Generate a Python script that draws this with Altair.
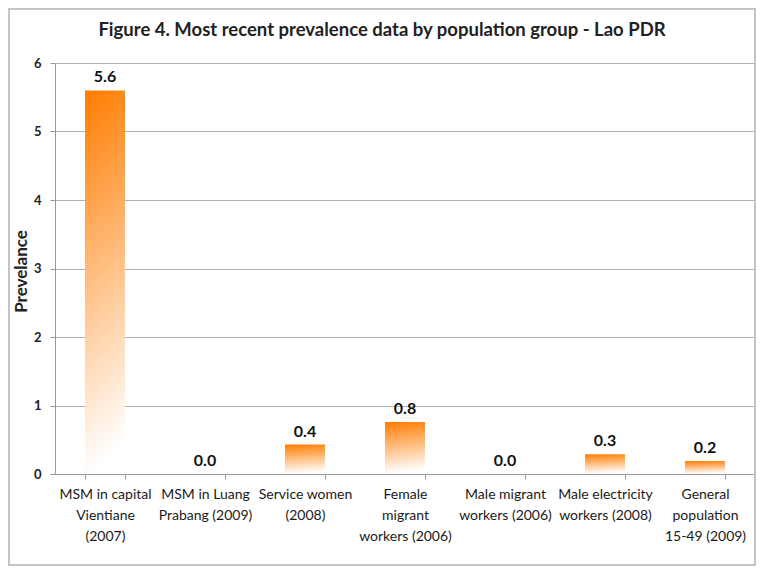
import altair as alt
import pandas as pd

categories = [
    "MSM in capital|Vientiane|(2007)",
    "MSM in Luang|Prabang (2009)",
    "Service women|(2008)",
    "Female|migrant|workers (2006)",
    "Male migrant|workers (2006)",
    "Male electricity|workers (2008)",
    "General|population|15-49 (2009)",
]
values = [5.6, 0.0, 0.43, 0.76, 0.0, 0.29, 0.19]
y_ticks = [0, 1, 2, 3, 4, 5, 6]

df = pd.DataFrame({"cat": categories, "val": values})

FONT = "Lato"
GRAD = {
    "gradient": "linear",
    "x1": 0, "y1": 0, "x2": 0.1, "y2": 1,
    "stops": [
        {"offset": 0, "color": "#FF7C00"},
        {"offset": 1, "color": "#FFFFFF"},
    ],
}

x_enc = alt.X(
    "cat:N",
    sort=categories,
    scale=alt.Scale(paddingInner=0.6, paddingOuter=0.3),
    axis=alt.Axis(
        title=None,
        labelAngle=0,
        labelExpr="split(datum.label, '|')",
        labelFont=FONT,
        labelFontSize=14,
        labelColor="#1a1a1a",
        labelLineHeight=21,
        labelPadding=8,
        labelBaseline="top",
        tickBand="extent",
        tickSize=5,
        tickColor="#9a9a9a",
        domainColor="#9a9a9a",
        labelLimit=200,
    ),
)
y_enc = alt.Y(
    "val:Q",
    scale=alt.Scale(domain=[0, 6]),
    axis=alt.Axis(
        title="Prevelance",
        titleFont=FONT,
        titleFontSize=17,
        titleFontWeight="bold",
        titleColor="#222222",
        titleX=-34,
        titleY=208,
        titleAngle=-90,
        titleAlign="center",
        titleBaseline="middle",
        values=y_ticks,
        format="d",
        labelFont=FONT,
        labelFontSize=13,
        labelFontWeight="bold",
        labelColor="#222222",
        labelPadding=9,
        tickSize=5,
        tickColor="#9a9a9a",
        domainColor="#9a9a9a",
        gridColor="#b0b0b0",
        gridWidth=1.2,
    ),
)

base = alt.Chart(df)

frame = base.mark_rect(
    fill="transparent", stroke="#c4c4c4", strokeWidth=2, clip=False
).encode(
    x=alt.value(-46), x2=alt.value(700), y=alt.value(-54), y2=alt.value(502)
)

bars = base.mark_bar(color=GRAD).encode(x=x_enc, y=y_enc)

labels = base.mark_text(
    dy=-13, font=FONT, fontSize=16, fontWeight="bold", color="#111111"
).encode(
    x=alt.X("cat:N", sort=categories),
    y="val:Q",
    text=alt.Text("val:Q", format=".1f"),
)

chart = (
    alt.layer(frame, bars, labels)
    .properties(
        width=700,
        height=411,
        autosize=alt.AutoSizeParams(type="none"),
        padding={"left": 47, "top": 55, "right": 1, "bottom": 93},
        title=alt.TitleParams(
            "Figure 4. Most recent prevalence data by population group - Lao PDR",
            font=FONT,
            fontSize=18.5,
            fontWeight="bold",
            color="#222222",
            anchor="middle",
            dx=-23,
            offset=-31,
        ),
    )
    .configure_view(stroke=None)
    .configure(background="white")
)

chart.save("out.html", embed_options={"renderer": "svg", "actions": False})
